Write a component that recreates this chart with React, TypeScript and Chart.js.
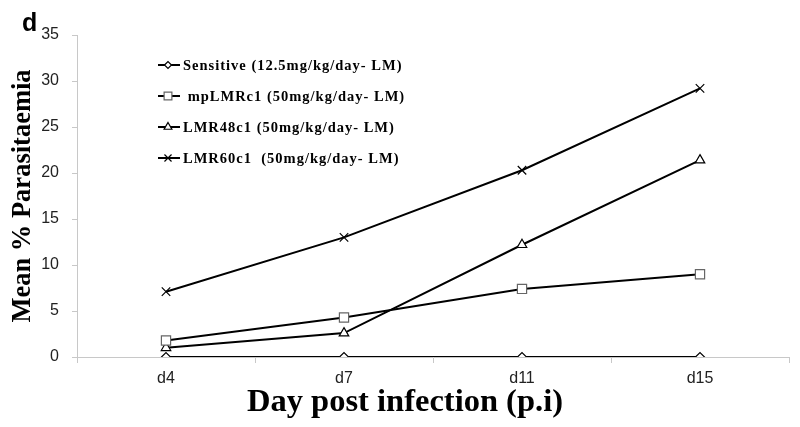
import React, { useEffect, useRef } from 'react';
import { Chart, registerables } from 'chart.js';
import { drawPoint } from 'chart.js/helpers';

Chart.register(...registerables);

const categories = ['d4', 'd7', 'd11', 'd15'];
const sensitive = [0, 0, 0, 0];
const mpLMRc1 = [1.8, 4.3, 7.4, 9.0];
const lmr48c1 = [1.0, 2.6, 12.2, 21.4];
const lmr60c1 = [7.1, 13.0, 20.3, 29.2];
const seriesLabels = [
  'Sensitive (12.5mg/kg/day- LM)',
  ' mpLMRc1 (50mg/kg/day- LM)',
  'LMR48c1 (50mg/kg/day- LM)',
  'LMR60c1  (50mg/kg/day- LM)',
];
const yMin = 0;
const yMax = 35;
const yStep = 5;
const xTitle = 'Day post infection (p.i)';
const yTitle = 'Mean % Parasitaemia';
const panelLabel = 'd';

const SERIF = '"Liberation Serif", "Times New Roman", serif';
const SANS = '"Liberation Sans", Arial, sans-serif';

const legendPlugin = {
  id: 'customLegend',
  afterDraw(chart: any) {
    const ctx = chart.ctx;
    ctx.save();
    // panel label
    ctx.fillStyle = '#000';
    ctx.font = `bold 25px ${SANS}`;
    ctx.textBaseline = 'alphabetic';
    ctx.textAlign = 'left';
    ctx.fillText(panelLabel, 22, 31);
    // x axis title
    ctx.font = `bold 32.5px ${SERIF}`;
    ctx.textAlign = 'center';
    ctx.textBaseline = 'alphabetic';
    ctx.fillText(xTitle, 405, 411);
    const ys = [65, 96, 127, 158];
    chart.data.datasets.forEach((ds: any, i: number) => {
      const y = ys[i];
      ctx.strokeStyle = '#000';
      ctx.lineWidth = 2;
      ctx.beginPath();
      ctx.moveTo(158, y);
      ctx.lineTo(180, y);
      ctx.stroke();
      ctx.lineWidth = 1.2;
      ctx.strokeStyle = ds.pointBorderColor;
      ctx.fillStyle = '#fff';
      drawPoint(ctx, { pointStyle: ds.pointStyle, rotation: 0, borderWidth: 1.2, radius: Math.max(3.5, ds.pointRadius - 1) }, 168, y);
      ctx.fillStyle = '#000';
      ctx.font = `bold 14.5px ${SERIF}`;
      ctx.textBaseline = 'middle';
      ctx.textAlign = 'left';
      try { (ctx as any).letterSpacing = '1px'; } catch (e) {}
      ctx.fillText(ds.label, 183, y + 1);
      try { (ctx as any).letterSpacing = '0px'; } catch (e) {}
    });
    ctx.restore();
  },
};

export default function App() {
  const ref = useRef<HTMLCanvasElement | null>(null);
  useEffect(() => {
    if (!ref.current) return;
    const mk = (label: string, data: number[], style: string, radius: number, border: string) => ({
      label,
      data,
      borderColor: '#000',
      borderWidth: 2,
      pointStyle: style,
      pointRadius: radius,
      pointBackgroundColor: '#fff',
      pointBorderColor: border,
      pointBorderWidth: 1.2,
      tension: 0,
    });
    const chart = new Chart(ref.current, {
      type: 'line',
      data: {
        labels: categories,
        datasets: [
          mk(seriesLabels[0], sensitive, 'rectRot', 4.5, '#000'),
          mk(seriesLabels[1], mpLMRc1, 'rect', 6.5, '#666'),
          mk(seriesLabels[2], lmr48c1, 'triangle', 5.5, '#000'),
          mk(seriesLabels[3], lmr60c1, 'crossRot', 6, '#000'),
        ],
      },
      options: {
        responsive: false,
        animation: false,
        layout: { padding: { top: 35, right: 11, left: 0, bottom: 0 } },
        plugins: { legend: { display: false }, tooltip: { enabled: false } },
        scales: {
          x: {
            offset: true,
            grid: { offset: true, drawOnChartArea: false, tickLength: 6, color: '#c8c8c8' },
            border: { color: '#c8c8c8', width: 1 },
            ticks: { color: '#222', font: { family: SANS, size: 16 }, padding: 6 },
            title: { display: false },
            afterFit: (s: any) => { s.height = 70; },
          },
          y: {
            min: yMin,
            max: yMax,
            ticks: { stepSize: yStep, color: '#222', font: { family: SANS, size: 16 }, padding: 13 },
            grid: { drawOnChartArea: false, tickLength: 5, color: '#c8c8c8' },
            border: { color: '#c8c8c8', width: 1 },
            title: {
              display: true,
              text: yTitle,
              color: '#000',
              font: { family: SERIF, size: 26.5, weight: 'bold' },
              padding: { top: 7, bottom: 7 },
            },
            afterFit: (s: any) => { s.width = 77; },
          },
        },
      } as any,
      plugins: [legendPlugin],
    });
    return () => chart.destroy();
  }, []);
  return (
    <div style={{ position: 'fixed', left: 0, top: 0, width: 800, height: 427, background: '#fff' }}>
      <canvas ref={ref} width={800} height={427} style={{ display: 'block' }} />
    </div>
  );
}
